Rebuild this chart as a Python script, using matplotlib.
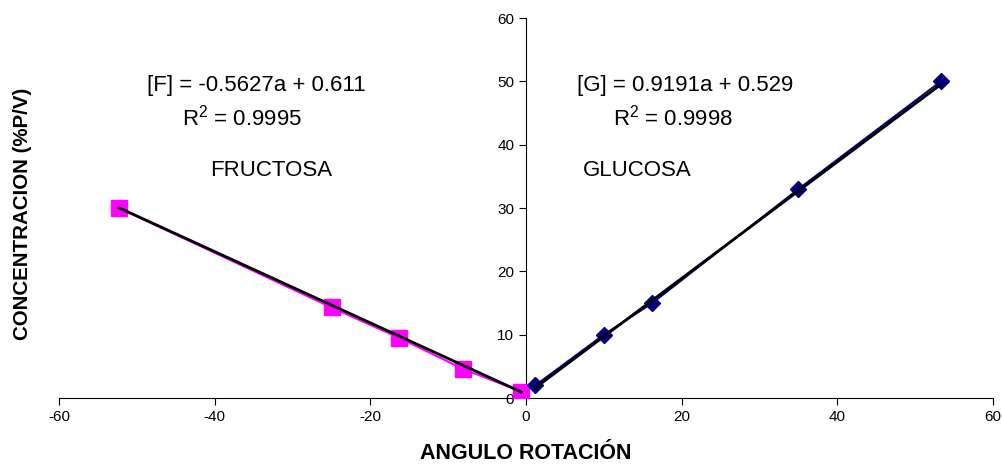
import numpy as np
import matplotlib.pyplot as plt

plt.rcParams['font.family'] = ['Liberation Sans', 'DejaVu Sans']
plt.rcParams['axes.unicode_minus'] = False
plt.rcParams['mathtext.fontset'] = 'custom'
plt.rcParams['mathtext.rm'] = 'Liberation Sans'

# data
fru_angle = [-52.3, -25.0, -16.3, -8.1, -0.6]
fru_conc = [30.0, 14.3, 9.5, 4.6, 1.0]
glu_angle = [1.2, 10.0, 16.2, 35.0, 53.3]
glu_conc = [2.0, 10.0, 15.0, 33.0, 50.0]

fru_fit = (-0.5627, 0.611)
glu_fit = (0.9191, 0.529)

fig, ax = plt.subplots(figsize=(10.03, 4.65), dpi=100)
fig.subplots_adjust(left=0.059, right=0.99, top=0.961, bottom=0.144)

ax.plot(fru_angle, fru_conc, color='#ff00ff', lw=1.5, marker='s', ms=11,
        markeredgecolor='#ff00ff', zorder=3)
ax.plot(glu_angle, glu_conc, color='#000080', lw=1.5, marker='D', ms=8,
        markeredgecolor='#000080', zorder=3)

# trendlines
xf = np.array([min(fru_angle), max(fru_angle)])
ax.plot(xf, fru_fit[0] * xf + fru_fit[1], color='black', lw=2, zorder=4)
xg = np.array([min(glu_angle), max(glu_angle)])
ax.plot(xg, glu_fit[0] * xg + glu_fit[1], color='black', lw=2, zorder=4)

ax.set_xlim(-60, 60)
ax.set_ylim(0, 60)
ax.set_xticks(range(-60, 61, 20))
ax.set_yticks(range(0, 61, 10))

ax.spines['left'].set_position(('data', 0))
ax.spines['right'].set_visible(False)
ax.spines['top'].set_visible(False)
ax.tick_params(direction='out', length=5, labelsize=11)

ax.set_xlabel('ANGULO ROTACIÓN', fontsize=15.5, fontweight='bold', labelpad=14)
fig.text(0.022, 0.54, 'CONCENTRACION (%P/V)', rotation=90, fontsize=14.8,
         fontweight='bold', ha='center', va='center')

ax.text(-34.7, 49.4, '[F] = -0.5627a + 0.611', fontsize=16, ha='center', va='center')
ax.text(-36.5, 44.3, 'R$^2$ = 0.9995', fontsize=16, ha='center', va='center')
ax.text(-32.7, 35.9, 'FRUCTOSA', fontsize=16, ha='center', va='center')
ax.text(20.5, 49.4, '[G] = 0.9191a + 0.529', fontsize=16, ha='center', va='center')
ax.text(18.9, 44.3, 'R$^2$ = 0.9998', fontsize=16, ha='center', va='center')
ax.text(14.3, 35.9, 'GLUCOSA', fontsize=16, ha='center', va='center')

fig.savefig('out.png', dpi=100)
